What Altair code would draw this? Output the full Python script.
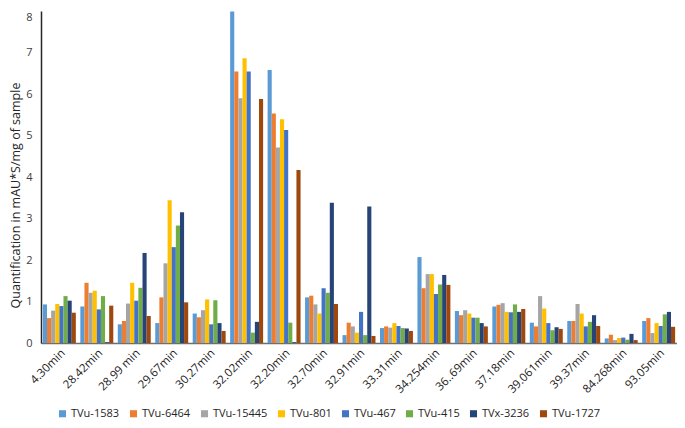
import altair as alt
import pandas as pd

categories = ["4.30min", "28.42min", "28.99 min", "29.67min", "30.27min", "32.02min",
              "32.20min", "32.70min", "32.91min", "33.31min", "34.254min", "36..69min",
              "37.18min", "39.061min", "39.37min", "84.268min", "93.05min"]

series_names = ["TVu-1583", "TVu-6464", "TVu-15445", "TVu-801", "TVu-467",
                "TVu-415", "TVx-3236", "TVu-1727"]

colors = ["#5B9BD5", "#ED7D31", "#A5A5A5", "#FFC000", "#4472C4",
          "#70AD47", "#264478", "#9E480E"]

tvu_1583 = [0.93, 0.88, 0.45, 0.48, 0.71, 7.99, 6.58, 1.10, 0.19, 0.36, 2.07, 0.77, 0.88, 0.49, 0.53, 0.11, 0.53]
tvu_6464 = [0.60, 1.45, 0.53, 1.10, 0.62, 6.54, 5.53, 1.14, 0.49, 0.40, 1.32, 0.67, 0.92, 0.40, 0.53, 0.20, 0.60]
tvu_15445 = [0.78, 1.21, 0.95, 1.92, 0.79, 5.90, 4.71, 0.93, 0.40, 0.37, 1.66, 0.79, 0.96, 1.13, 0.94, 0.07, 0.24]
tvu_801 = [0.94, 1.26, 1.45, 3.44, 1.05, 6.86, 5.39, 0.71, 0.25, 0.48, 1.66, 0.71, 0.75, 0.83, 0.71, 0.12, 0.48]
tvu_467 = [0.89, 0.81, 1.02, 2.31, 0.45, 6.54, 5.13, 1.32, 0.75, 0.41, 1.18, 0.61, 0.74, 0.48, 0.40, 0.13, 0.41]
tvu_415 = [1.13, 1.13, 1.33, 2.83, 1.03, 0.25, 0.49, 1.21, 0.19, 0.36, 1.41, 0.61, 0.93, 0.31, 0.51, 0.08, 0.69]
tvx_3236 = [1.02, 0.02, 2.17, 3.15, 0.48, 0.51, 0.02, 3.38, 3.29, 0.35, 1.64, 0.48, 0.75, 0.38, 0.67, 0.22, 0.75]
tvu_1727 = [0.73, 0.90, 0.65, 0.98, 0.29, 5.88, 4.17, 0.94, 0.17, 0.29, 1.40, 0.40, 0.82, 0.34, 0.41, 0.07, 0.39]

all_series = [tvu_1583, tvu_6464, tvu_15445, tvu_801, tvu_467, tvu_415, tvx_3236, tvu_1727]

rows = []
for name, vals in zip(series_names, all_series):
    for cat, v in zip(categories, vals):
        rows.append({"time": cat, "variety": name, "value": v})
df = pd.DataFrame(rows)

FONT = "Open Sans"

chart = alt.Chart(df).mark_bar().encode(
    x=alt.X("time:N", sort=categories,
            scale=alt.Scale(paddingInner=0.12, paddingOuter=0.05),
            axis=alt.Axis(title=None, labelAngle=-45, ticks=False,
                          domainColor="#6f6f6f", domainWidth=1.5,
                          labelFontSize=11.5, labelColor="#1a1a1a",
                          labelPadding=4, labelFont=FONT)),
    xOffset=alt.XOffset("variety:N", sort=series_names),
    y=alt.Y("value:Q", scale=alt.Scale(domain=[0, 8]),
            axis=alt.Axis(title="Quantification in mAU*S/mg of sample",
                          values=list(range(9)), grid=False, ticks=False,
                          domainColor="#262626", domainWidth=1.5,
                          labelPadding=9, labelFontSize=11,
                          labelBaseline={"condition": {"test": "datum.value == 8", "value": "top"},
                                         "value": "middle"},
                          labelColor="#404040", labelFont=FONT,
                          titleFont=FONT, titleFontSize=12.5,
                          titleFontWeight="normal", titleColor="#262626",
                          titlePadding=3, titleY=184)),
    color=alt.Color("variety:N", sort=series_names,
                    scale=alt.Scale(domain=series_names, range=colors),
                    legend=alt.Legend(title=None, orient="none",
                                      legendX=16, legendY=397,
                                      direction="horizontal",
                                      symbolType="square", symbolSize=50,
                                      symbolStrokeWidth=0,
                                      columnPadding=8,
                                      labelFontSize=11, labelFont=FONT,
                                      labelColor="#262626", labelOffset=3))
).properties(
    width=636, height=332,
    padding={"left": 33, "top": 3, "right": 0, "bottom": 77},
    autosize=alt.AutoSizeParams(type="none")
).configure_view(stroke=None)

chart.save("out.html", embed_options={"renderer": "svg", "actions": False})
